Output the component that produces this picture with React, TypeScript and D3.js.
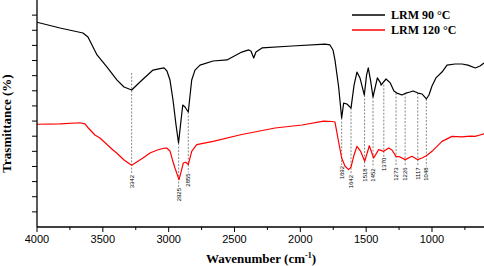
import React from "react";
import * as d3 from "d3";

// Wavenumber (cm-1) and transmittance (arbitrary units) for each spectrum
const blackWn = [4000,3825,3651,3613,3544,3468,3392,3339,3281,3218,3119,3066,3035,3013,2990,2967,2944,2925,2910,2893,2876,2851,2825,2800,2762,2663,2557,2445,2392,2375,2354,2337,2291,2063,1813,1775,1752,1737,1709,1686,1671,1646,1615,1592,1570,1547,1514,1497,1484,1467,1448,1415,1391,1387,1349,1317,1289,1266,1228,1197,1167,1144,1106,1076,1043,1023,1000,970,924,886,825,772,727,671,635,605];
const blackT = [13.53,13.15,12.82,12.56,11.37,10.57,9.71,9.25,9.05,9.58,10.37,10.47,10.51,10.31,9.71,8.39,6.74,5.55,6.74,8.06,7.93,7.6,9.71,10.37,10.7,10.97,11.04,11.56,11.7,11.63,11.17,11.56,11.83,11.96,12.09,12.03,11.7,11.04,9.25,7.2,8.19,8.13,7.86,9.38,10.24,9.85,8.72,10.04,10.51,9.71,8.59,9.85,9.52,9.38,9.78,9.52,8.99,8.85,8.72,8.85,8.92,8.99,8.85,8.79,8.46,8.72,9.32,9.85,10.24,10.7,10.77,10.77,10.7,10.51,10.64,10.84];

const redWn = [4000,3825,3673,3635,3610,3560,3522,3423,3395,3339,3281,3195,3142,3091,3043,3015,2990,2971,2952,2922,2906,2889,2871,2851,2825,2787,2663,2445,2192,1987,1823,1759,1737,1712,1686,1661,1634,1615,1592,1570,1543,1511,1476,1443,1405,1367,1329,1304,1273,1243,1203,1152,1109,1076,1043,1000,924,848,772,711,673,635,605];
const redT = [6.79,6.81,6.89,6.81,6.54,6.08,5.88,5.09,4.89,4.43,4.08,4.56,4.89,5.07,5.19,5.22,5.02,4.43,3.9,3.13,3.63,4.23,4.28,4.12,5.0,5.44,5.66,6.11,6.54,6.74,7.0,6.97,6.94,5.75,4.56,4.03,3.79,3.96,4.76,5.33,5.02,4.34,5.37,4.56,5.11,5.0,5.22,5.09,4.67,4.63,4.45,4.67,4.45,4.56,4.71,5.0,5.66,5.99,5.95,6.01,5.99,6.08,6.15];

// Peak annotations
const peakLabels = ["3342","2925","2855","1692","1642","1518","1452","1370","1273","1226","1117","1048"];
const peakWn = [3281,2924,2851,1686,1615,1512,1448,1366,1273,1204,1108,1043];
const peakTop = [10.18,5.55,7.6,7.2,7.86,8.72,8.59,9.4,8.85,8.85,8.85,8.46];
const peakLabelAt = [3.44,2.58,3.55,4.03,3.44,3.88,3.88,4.58,3.94,3.94,3.94,3.94];

const xTicks = [4000,3500,3000,2500,2000,1500,1000];
const xMinorTicks = [3750,3250,2750,2250,1750,1250,750];
const yTicks = [1,2,3,4,5,6,7,8,9,10,11,12,13,14];

const series = [
  { name: "LRM 90 °C", wn: blackWn, t: blackT, color: "#000000" },
  { name: "LRM 120 °C", wn: redWn, t: redT, color: "#ff0000" },
];

export default function App() {
  const W = 484, H = 266;
  const left = 37, right = 484, top = 0, bottom = 227;
  const x = d3.scaleLinear().domain([4000, 605]).range([left, right]);
  const y = d3.scaleLinear().domain([0, 15]).range([bottom, top]);
  const serif = "'Liberation Serif', 'Times New Roman', serif";
  const sans = "'Liberation Sans', Arial, sans-serif";

  const line = (wn: number[], t: number[]) =>
    d3.line<number>().x((_, i) => x(wn[i])).y((_, i) => y(t[i]))(wn.map((_, i) => i)) || "";

  return (
    <svg width={W} height={H} style={{ position: "absolute", left: 0, top: 0, background: "#fff" }}>
      <rect x={0} y={0} width={W} height={H} fill="#fff" />
      {/* peak dashed lines */}
      {peakWn.map((w, i) => (
        <g key={"p" + i}>
          <line x1={x(w)} x2={x(w)} y1={y(peakTop[i])} y2={y(peakLabelAt[i]) - 1}
            stroke="#555" strokeWidth={0.7} strokeDasharray="2,1.5" />
          <text transform={`translate(${x(w)},${y(peakLabelAt[i])}) rotate(-90)`}
            textAnchor="end" dy="0.35em" fontFamily={sans} fontSize={6} fill="#000">
            {peakLabels[i]}
          </text>
        </g>
      ))}
      {/* curves */}
      {series.map((s) => (
        <path key={s.name} d={line(s.wn, s.t)} fill="none" stroke={s.color} strokeWidth={1.2} strokeLinejoin="round" />
      ))}
      {/* axes */}
      <line x1={left} x2={left} y1={top} y2={bottom} stroke="#000" strokeWidth={1.3} />
      <line x1={left} x2={right} y1={bottom} y2={bottom} stroke="#000" strokeWidth={1.3} />
      {yTicks.map((v) => (
        <line key={"yt" + v} x1={left - 5} x2={left} y1={y(v)} y2={y(v)} stroke="#000" strokeWidth={1} />
      ))}
      {xTicks.map((v) => (
        <g key={"xt" + v}>
          <line x1={x(v)} x2={x(v)} y1={bottom} y2={bottom + 5} stroke="#000" strokeWidth={1} />
          <text x={x(v)} y={bottom + 16} textAnchor="middle" fontFamily={sans} fontSize={11} fill="#000">{v}</text>
        </g>
      ))}
      {xMinorTicks.map((v) => (
        <line key={"xm" + v} x1={x(v)} x2={x(v)} y1={bottom} y2={bottom + 3} stroke="#000" strokeWidth={1} />
      ))}
      {/* axis titles */}
      <text x={261} y={263} textAnchor="middle" fontFamily={serif} fontWeight="bold" fontSize={13} fill="#000">
        Wavenumber (cm<tspan dy={-5} fontSize={8}>-1</tspan><tspan dy={5}>)</tspan>
      </text>
      <text transform="translate(11,123.5) rotate(-90)" textAnchor="middle" fontFamily={serif} fontWeight="bold" fontSize={13} fill="#000">
        Trasmittance (%)
      </text>
      {/* legend */}
      {series.map((s, i) => (
        <g key={"lg" + i}>
          <line x1={352} x2={385} y1={15 + i * 15} y2={15 + i * 15} stroke={s.color} strokeWidth={1.5} />
          <text x={391} y={19 + i * 15} fontFamily={serif} fontWeight="bold" fontSize={12} fill="#000">{s.name}</text>
        </g>
      ))}
    </svg>
  );
}
